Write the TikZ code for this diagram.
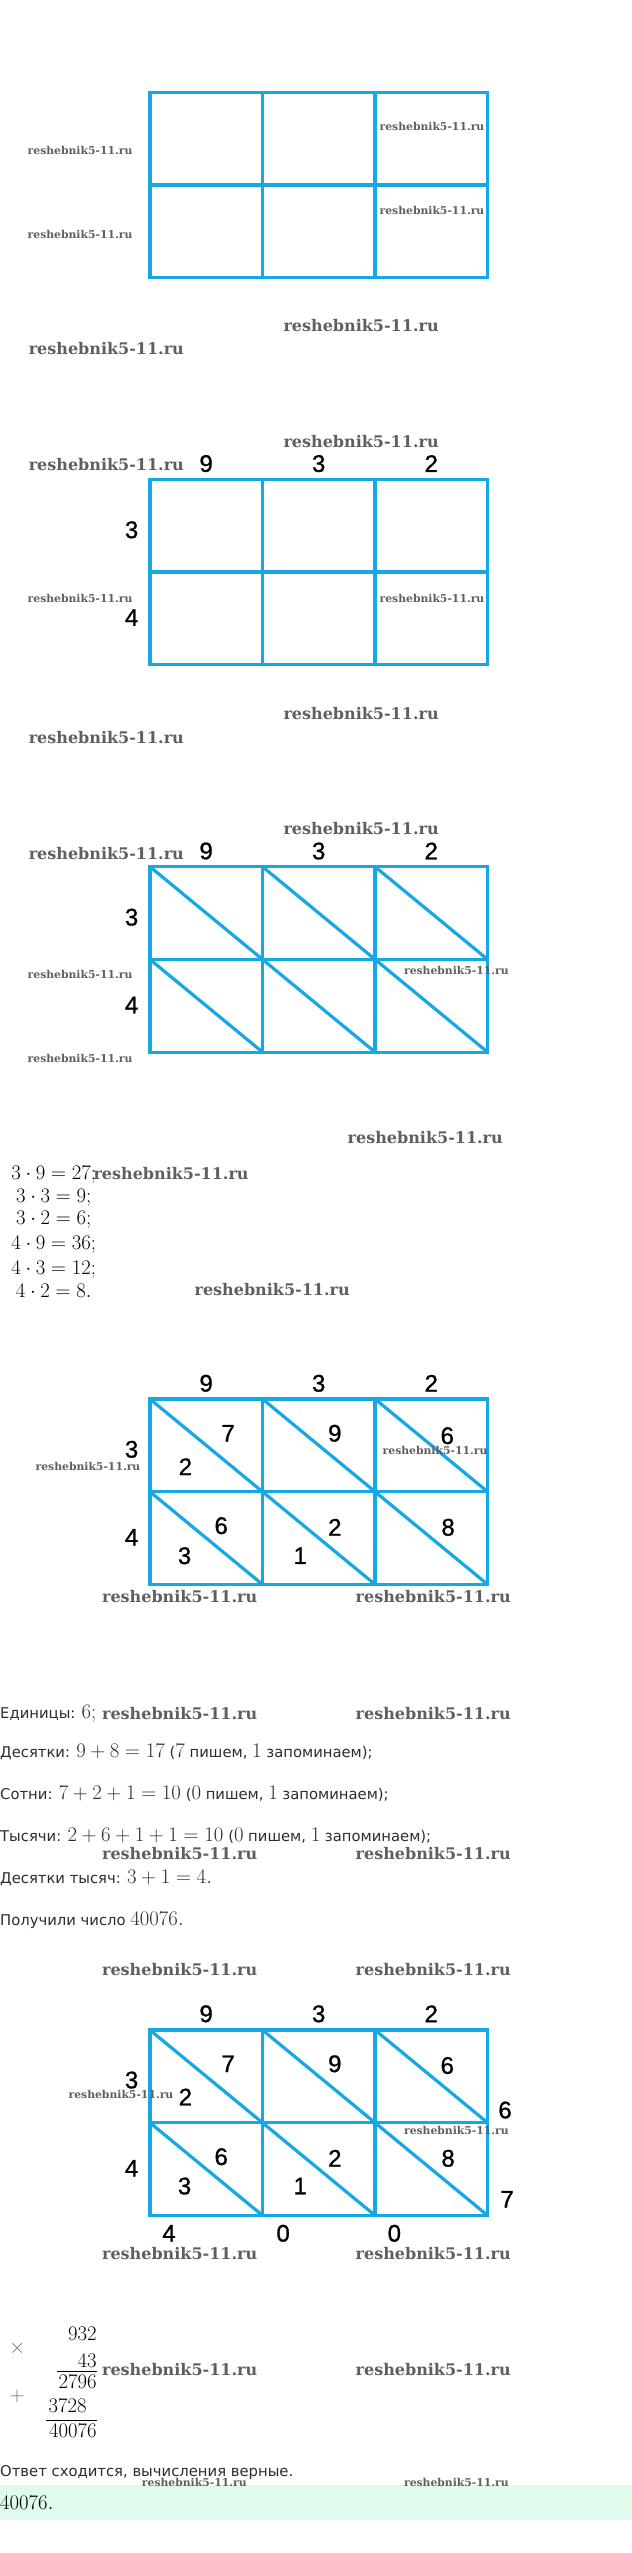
\documentclass[tikz,border=0pt]{standalone}
\usepackage{fontspec}
\setsansfont{DejaVu Sans}
\newfontfamily\wmfont{DejaVu Serif}
\newfontfamily\digfont[FakeBold=1]{Liberation Sans}
\definecolor{gridblue}{RGB}{22,168,228}
\definecolor{mint}{RGB}{224,251,235}
\definecolor{txtgray}{RGB}{45,45,45}
\definecolor{wmgray}{RGB}{95,95,95}
\newcommand\M[1]{{\fontsize{19.5}{22}\selectfont$#1$}}
\newcommand\drawlattice[2]{%
  \begin{scope}[shift={(0,#1)}]
    \draw[gridline] (122.7,0) rectangle (399,185.4);
    \draw[gridline] (214.8,0) -- (214.8,185.4);
    \draw[gridline] (306.9,0) -- (306.9,185.4);
    \draw[gridline] (122.7,92.7) -- (399,92.7);
    \ifnum#2=1
      \foreach \c in {0,1,2}{
        \foreach \r in {0,1}{
          \draw[gridline] ({122.7+92.1*\c},{92.7*\r}) -- ({214.8+92.1*\c},{92.7*(\r+1)});
        }
      }
    \fi
  \end{scope}}
\begin{document}
\begin{tikzpicture}[x=1.222pt,y=-1pt,
  gridline/.style={draw=gridblue, line width=3.2pt},
  dig/.style={font=\digfont\fontsize{24}{24}\selectfont, inner sep=0},
  eqn/.style={font=\fontsize{19.5}{22}\selectfont, inner sep=0, anchor=base},
  txt/.style={font=\sffamily\fontsize{14.8}{17}\selectfont, text=txtgray, inner sep=0, anchor=base west},
  col/.style={font=\fontsize{19.5}{22}\selectfont, inner sep=0, anchor=base east},
  wmL/.style={font=\wmfont\bfseries\fontsize{16}{17}\selectfont, text=wmgray, inner sep=0},
  wmS/.style={font=\wmfont\bfseries\fontsize{10.8}{11}\selectfont, text=wmgray, inner sep=0}]
\useasboundingbox (0,0) rectangle (517.18,2553);
\fill[white] (0,0) rectangle (517.18,2553);

% ---------- grid 1
\drawlattice{92.3}{0}

% ---------- grid 2
\drawlattice{479.3}{0}
\node[dig] (b9) at (168.7,463.6) {9};
\node[dig] (b3) at (260.8,463.6) {3};
\node[dig] (b2) at (352.9,463.6) {2};
\node[dig] (br3) at (107.7,529.8) {3};
\node[dig] (br4) at (107.7,617.6) {4};

% ---------- grid 3
\drawlattice{866.7}{1}
\node[dig] (c9) at (168.7,851) {9};
\node[dig] (c3) at (260.8,851) {3};
\node[dig] (c2) at (352.9,851) {2};
\node[dig] (cr3) at (107.7,917.2) {3};
\node[dig] (cr4) at (107.7,1005) {4};

% ---------- products
\node[eqn] (e1) at (44,1179) {$3\cdot9=27;$};
\node[eqn] (e2) at (44,1202.4) {$3\cdot3=9;$};
\node[eqn] (e3) at (44,1224.7) {$3\cdot2=6;$};
\node[eqn] (e4) at (44,1249) {$4\cdot9=36;$};
\node[eqn] (e5) at (44,1274) {$4\cdot3=12;$};
\node[eqn] (e6) at (44,1297.4) {$4\cdot2=8.$};

% ---------- grid 4
\drawlattice{1399}{1}
\node[dig] (d9) at (168.7,1383.3) {9};
\node[dig] (d3) at (260.8,1383.3) {3};
\node[dig] (d2) at (352.9,1383.3) {2};
\node[dig] (dr3) at (107.7,1449.3) {3};
\node[dig] (dr4) at (107.7,1537.3) {4};
\node[dig] (d11a) at (186.7,1433.3) {7};
\node[dig] (d11b) at (151.7,1466.7) {2};
\node[dig] (d12a) at (274,1433.3) {9};
\node[dig] (d13a) at (366,1435.7) {6};
\node[dig] (d21a) at (181,1525.7) {6};
\node[dig] (d21b) at (151,1555.7) {3};
\node[dig] (d22a) at (274,1527.3) {2};
\node[dig] (d22b) at (245.7,1555.7) {1};
\node[dig] (d23a) at (366.7,1527.3) {8};

% ---------- sums
\node[txt] (t1) at (0,1718.3) {Единицы: \M{6;}};
\node[txt] (t2) at (0,1757.7) {Десятки: \M{9+8=17} (\M{7} пишем, \M{1} запоминаем);};
\node[txt] (t3) at (0,1799.3) {Сотни: \M{7+2+1=10} (\M{0} пишем, \M{1} запоминаем);};
\node[txt] (t4) at (0,1841) {Тысячи: \M{2+6+1+1=10} (\M{0} пишем, \M{1} запоминаем);};
\node[txt] (t5) at (0,1883.3) {Десятки тысяч: \M{3+1=4.}};
\node[txt] (t6) at (0,1925) {Получили число \M{40076.}};

% ---------- grid 5
\drawlattice{2030}{1}
\node[dig] (f9) at (168.7,2013.8) {9};
\node[dig] (f3) at (260.8,2013.8) {3};
\node[dig] (f2) at (352.9,2013.8) {2};
\node[dig] (fr3) at (107.7,2080) {3};
\node[dig] (fr4) at (107.7,2168.3) {4};
\node[dig] (f11a) at (186.7,2063.8) {7};
\node[dig] (f11b) at (151.7,2097) {2};
\node[dig] (f12a) at (274,2063.8) {9};
\node[dig] (f13a) at (366,2065.5) {6};
\node[dig] (f21a) at (181,2156.7) {6};
\node[dig] (f21b) at (151,2186) {3};
\node[dig] (f22a) at (274,2158.3) {2};
\node[dig] (f22b) at (245.7,2186) {1};
\node[dig] (f23a) at (366.7,2158.3) {8};
\node[dig] (fs6) at (413.3,2110) {6};
\node[dig] (fs7) at (415,2199.3) {7};
\node[dig] (fb4) at (138.3,2233.3) {4};
\node[dig] (fb0a) at (231.7,2233.3) {0};
\node[dig] (fb0b) at (322.7,2233.3) {0};

% ---------- column check
\node[col] (k1) at (79.3,2340.5) {$932$};
\node[col] (k2) at (79.3,2367.2) {$43$};
\node[col] (k3) at (79.3,2388.4) {$2796$};
\node[col] (k4) at (71,2412.8) {$3728$};
\node[col] (k5) at (79.3,2437.4) {$40076$};
\node[inner sep=0, font=\fontsize{19.5}{22}\selectfont, text=black!55] (kx) at (14,2348.3) {$\times$};
\node[inner sep=0, font=\fontsize{19.5}{22}\selectfont, text=black!55] (kp) at (14,2396) {$+$};
\coordinate (r1a) at (46.7,2371.7);
\coordinate (r1b) at (79.3,2371.7);
\coordinate (r2a) at (37.7,2420.7);
\coordinate (r2b) at (79.3,2420.7);
\draw[line width=0.7pt] (r1a) -- (r1b);
\draw[line width=0.7pt] (r2a) -- (r2b);

\node[txt] (t7) at (0,2476.5) {Ответ сходится, вычисления верные.};
\fill[mint] (0,2485) rectangle (517.18,2520);
\node[eqn, anchor=base west] (ans) at (0,2509) {$40076.$};

% ---------- watermarks
\foreach \x/\y [count=\i] in {295.5/326, 87/349, 295.5/441.7, 87/465, 295.5/713.3, 87/737.3,
  295.5/829, 87/853.3, 348/1137.3, 140/1174, 222.7/1290, 147/1596.7, 354.5/1596.7,
  147/1713.3, 354.5/1713.3, 147/1853.3, 354.5/1853.3, 147/1969.3, 354.5/1969.3,
  147/2253.3, 354.5/2253.3, 147/2370, 354.5/2370}
  \node[wmL] (wl\i) at (\x,\y) {reshebnik5-11.ru};
\foreach \x/\y [count=\i] in {65.5/150, 65.5/234, 353.5/126, 353.5/210, 65.5/598.3, 353.5/598.3,
  65.5/974, 373.5/970, 65.5/1058.3, 72/1466, 356/1450.7, 99/2094.3, 373.5/2130,
  159/2482.7, 373.5/2482.7}
  \node[wmS] (ws\i) at (\x,\y) {reshebnik5-11.ru};
\end{tikzpicture}
\end{document}
